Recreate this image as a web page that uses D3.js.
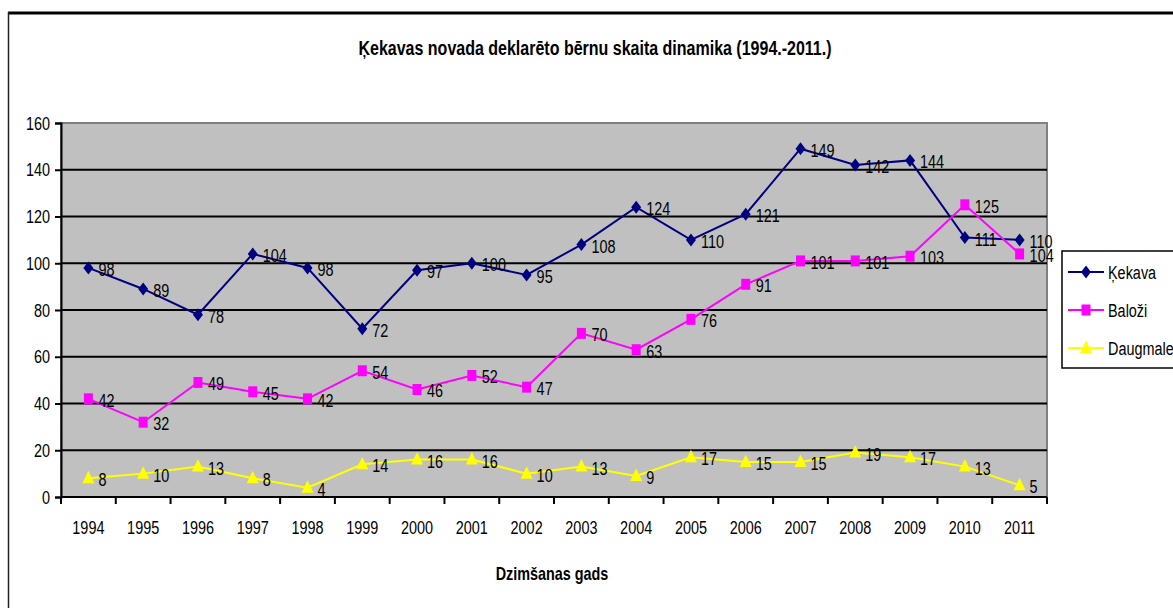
<!DOCTYPE html>
<html><head><meta charset="utf-8">
<script src="https://cdn.jsdelivr.net/npm/d3@7"></script>
<style>
html,body{margin:0;padding:0;background:#fff;}
svg text{font-family:"Liberation Sans","Arial",sans-serif;}
</style></head>
<body>
<svg id="chart" width="1173" height="608"></svg>
<script>
const years = ["1994","1995","1996","1997","1998","1999","2000","2001","2002","2003","2004","2005","2006","2007","2008","2009","2010","2011"];
const kekava = [98,89,78,104,98,72,97,100,95,108,124,110,121,149,142,144,111,110];
const balozi = [42,32,49,45,42,54,46,52,47,70,63,76,91,101,101,103,125,104];
const daugmale = [8,10,13,8,4,14,16,16,10,13,9,17,15,15,19,17,13,5];
const yTicks = [0,20,40,60,80,100,120,140,160];
const seriesNames = ["Ķekava","Baloži","Daugmale"];
const title = "Ķekavas novada deklarēto bērnu skaita dinamika (1994.-2011.)";
const xTitle = "Dzimšanas gads";

const SX = 0.76; // horizontal condensation to mimic a narrow face
const FS = 19;
const symDiamond = "M0,-6.5L5,0L0,6.5L-5,0Z";
const symSquare = "M-4.5,-5.5h9v11h-9Z";
const symTriangle = "M0,-7.5L6,5L-6,5Z";

const series = [
  {name: seriesNames[0], values: kekava, color: "#000080", sym: symDiamond},
  {name: seriesNames[1], values: balozi, color: "#FF00FF", sym: symSquare},
  {name: seriesNames[2], values: daugmale, color: "#FFFF00", sym: symTriangle}
];

const svg = d3.select("#chart");
const L = 61, T = 123, R = 1047, B = 497;

function ntext(g, x, y, str, size, opts = {}) {
  const sx = opts.sx || SX;
  const t = g.append("text")
    .attr("transform", `translate(${x},${y}) scale(${sx},1)`)
    .attr("font-size", size).attr("fill", "#000").text(str);
  if (opts.anchor) t.attr("text-anchor", opts.anchor);
  if (opts.bold) t.attr("font-weight", "bold");
  return t;
}

// outer frame
svg.append("line").attr("x1",8).attr("x2",1173).attr("y1",13).attr("y2",13).attr("stroke","#000").attr("stroke-width",3);
svg.append("line").attr("x1",8.5).attr("x2",8.5).attr("y1",12).attr("y2",608).attr("stroke","#222").attr("stroke-width",1.5);

ntext(svg, 595, 55, title, 20, {anchor: "middle", bold: true, sx: 0.8});

const x = d3.scaleBand().domain(years).range([L,R]);
const y = d3.scaleLinear().domain([0,160]).range([B,T]);

svg.append("rect").attr("x",L).attr("y",T).attr("width",R-L).attr("height",B-T)
  .attr("fill","#C0C0C0").attr("stroke","#808080").attr("stroke-width",2);

// gridlines
svg.append("g").selectAll("line").data(yTicks.filter(v=>v>0 && v<160)).join("line")
  .attr("x1",L).attr("x2",R).attr("y1",d=>y(d)).attr("y2",d=>y(d))
  .attr("stroke","#000").attr("stroke-width",2);

// y axis
const yAxis = svg.append("g").attr("transform",`translate(${L},0)`)
  .call(d3.axisLeft(y).tickValues(yTicks).tickSize(6).tickPadding(4));
yAxis.select(".domain").attr("stroke","#000").attr("stroke-width",2);
yAxis.selectAll(".tick line").attr("stroke","#000").attr("stroke-width",2);
yAxis.selectAll(".tick text").each(function(){
  const t = d3.select(this);
  t.attr("x", null).attr("dy", "0.32em").attr("transform", `translate(-11,0) scale(${SX},1)`)
   .attr("font-size", FS).attr("fill", "#000").attr("font-family", null);
});

// x axis
const xAxis = svg.append("g").attr("transform",`translate(0,${B})`)
  .call(d3.axisBottom(x).tickSize(0).tickPadding(24));
xAxis.select(".domain").remove();
xAxis.selectAll(".tick text").attr("transform", `scale(${SX},1)`)
  .attr("font-size",FS).attr("fill","#000").attr("font-family", null);
svg.append("line").attr("x1",L).attr("x2",R).attr("y1",B).attr("y2",B).attr("stroke","#000").attr("stroke-width",2);
const edges = years.map(d => x(d)).concat([R]);
svg.append("g").selectAll("line").data(edges).join("line")
  .attr("x1",d=>d).attr("x2",d=>d)
  .attr("y1",B).attr("y2",B+7).attr("stroke","#000").attr("stroke-width",2);

ntext(svg, 552, 580, xTitle, 18, {anchor: "middle", bold: true, sx: 0.8});

const cx = i => x(years[i]) + x.bandwidth()/2;
const line = d3.line().x((d,i)=>cx(i)).y(d=>y(d));

series.forEach(s=>{
  svg.append("path").datum(s.values).attr("d",line).attr("fill","none")
    .attr("stroke",s.color).attr("stroke-width",2);
  svg.append("g").selectAll("path").data(s.values).join("path")
    .attr("d", s.sym)
    .attr("transform",(d,i)=>`translate(${cx(i)},${y(d)})`)
    .attr("fill",s.color);
  const lg = svg.append("g");
  s.values.forEach((d,i) => ntext(lg, cx(i)+10, y(d)+8, d, FS));
});

// legend
const lg = svg.append("g");
lg.append("rect").attr("x",1062).attr("y",251).attr("width",140).attr("height",117)
  .attr("fill","#fff").attr("stroke","#000").attr("stroke-width",1.5);
series.forEach((s,i)=>{
  const ly = 272 + i*38;
  lg.append("line").attr("x1",1068).attr("x2",1104).attr("y1",ly).attr("y2",ly)
    .attr("stroke",s.color).attr("stroke-width",2);
  lg.append("path").attr("d", s.sym)
    .attr("transform",`translate(1086,${ly})`)
    .attr("fill",s.color);
  ntext(lg, 1108, ly+7, s.name, FS);
});
</script>
</body></html>
